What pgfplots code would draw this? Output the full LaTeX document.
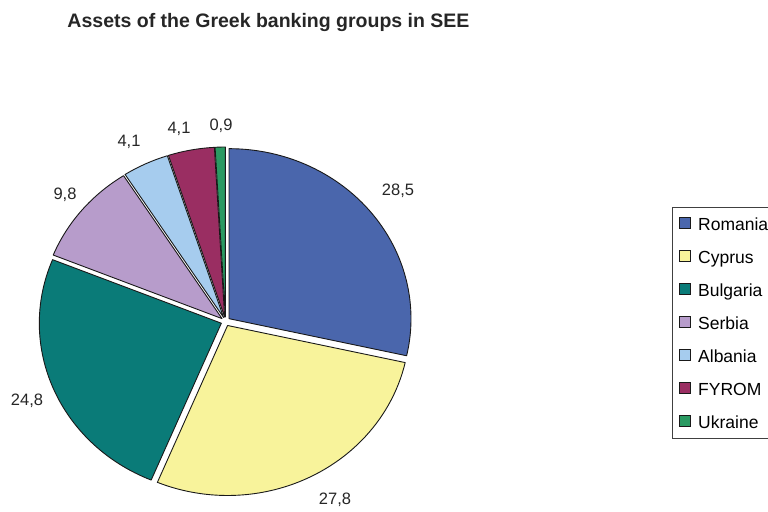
\documentclass[border=0pt]{standalone}
\usepackage{fontspec}
\setmainfont{Liberation Sans}
\usepackage{pgfplots}
\usepackage{pgfplotstable}
\pgfplotsset{compat=1.18}

\definecolor{c0}{HTML}{4A66AC}
\definecolor{c1}{HTML}{F8F39B}
\definecolor{c2}{HTML}{0A7B78}
\definecolor{c3}{HTML}{B79CCB}
\definecolor{c4}{HTML}{A6CCEE}
\definecolor{c5}{HTML}{9A2E62}
\definecolor{c6}{HTML}{2A9A62}

% country, share (%), label text, label position (px from left / top)
\pgfplotstableread{
name     value label lx  ly
Romania  28.5  28,5  398 191
Cyprus   27.8  27,8  335 500
Bulgaria 24.8  24,8  27  401
Serbia   9.8   9,8   65  195
Albania  4.1   4,1   129 142
FYROM    4.1   4,1   179 129
Ukraine  0.9   0,9   221 126
}\piedata

\begin{document}
\begin{tikzpicture}
% angles of the slices (clockwise from the top)
\gdef\cum{0}
\foreach \i in {0,...,6}{%
  \pgfplotstablegetelem{\i}{value}\of\piedata
  \let\v\pgfplotsretval
  \pgfmathsetmacro\s{90-3.6*\cum}%
  \pgfmathsetmacro\e{\s-3.6*\v}%
  \pgfmathsetmacro\b{(\s+\e)/2}%
  \pgfmathsetmacro\ax{225.5+4.5*cos(\b)}%
  \pgfmathsetmacro\ay{190.5+4.5*sin(\b)}%
  \pgfmathsetmacro\sx{\ax+182*cos(\s)}%
  \pgfmathsetmacro\sy{\ay+170*sin(\s)}%
  \pgfmathsetmacro\nc{\cum+\v}%
  \xdef\cum{\nc}%
  \expandafter\xdef\csname s\i\endcsname{\s}%
  \expandafter\xdef\csname e\i\endcsname{\e}%
  \expandafter\xdef\csname ax\i\endcsname{\ax}%
  \expandafter\xdef\csname ay\i\endcsname{\ay}%
  \expandafter\xdef\csname sx\i\endcsname{\sx}%
  \expandafter\xdef\csname sy\i\endcsname{\sy}%
}
\begin{axis}[
  x=1bp, y=1bp,
  xmin=0, xmax=768, ymin=0, ymax=512,
  hide axis, clip=false,
  legend style={at={(axis cs:672,305)}, anchor=north west,
    draw=black!75, line width=0.8bp, fill=white,
    inner xsep=7bp, inner ysep=8bp,
    font=\fontsize{17.5bp}{19bp}\selectfont,
    nodes={inner sep=0pt, text height=15.5bp, text depth=1.5bp},
    row sep=16bp, column sep=7bp},
  legend cell align=left,
  legend image code/.code={\draw[#1, line width=0.8bp] (0bp,-4.5bp) rectangle (11bp,6bp);},
]
\coordinate (bl) at (axis cs:0,0);
\coordinate (tr) at (axis cs:768,512);

\pgfplotsinvokeforeach{0,...,6}{
  \filldraw[fill=c#1, draw=black!90, line width=0.9bp, line join=round]
    (axis cs:\csname ax#1\endcsname,\csname ay#1\endcsname) --
    (axis cs:\csname sx#1\endcsname,\csname sy#1\endcsname)
    arc[start angle=\csname s#1\endcsname, end angle=\csname e#1\endcsname,
        x radius=182bp, y radius=170bp] -- cycle;
}

% value labels
\addplot[forget plot, only marks, mark=none, nodes near coords,
  point meta=explicit symbolic,
  every node near coord/.style={anchor=center, inner sep=0pt,
    font=\fontsize{16.5bp}{18bp}\selectfont, text=black!85}]
  table[x=lx, y expr=512-\thisrow{ly}, meta=label] {\piedata};

\addlegendimage{fill=c0, draw=black!90}\addlegendentry{Romania}
\addlegendimage{fill=c1, draw=black!90}\addlegendentry{Cyprus}
\addlegendimage{fill=c2, draw=black!90}\addlegendentry{Bulgaria}
\addlegendimage{fill=c3, draw=black!90}\addlegendentry{Serbia}
\addlegendimage{fill=c4, draw=black!90}\addlegendentry{Albania}
\addlegendimage{fill=c5, draw=black!90}\addlegendentry{FYROM}
\addlegendimage{fill=c6, draw=black!90}\addlegendentry{Ukraine}

\node[anchor=base, inner sep=0pt, text=black!85,
  font=\fontsize{19.5bp}{21bp}\selectfont\bfseries]
  at (axis cs:268.5,484) {Assets of the Greek banking groups in SEE};
\end{axis}
\pgfresetboundingbox
\useasboundingbox (bl) rectangle (tr);
\end{tikzpicture}
\end{document}
